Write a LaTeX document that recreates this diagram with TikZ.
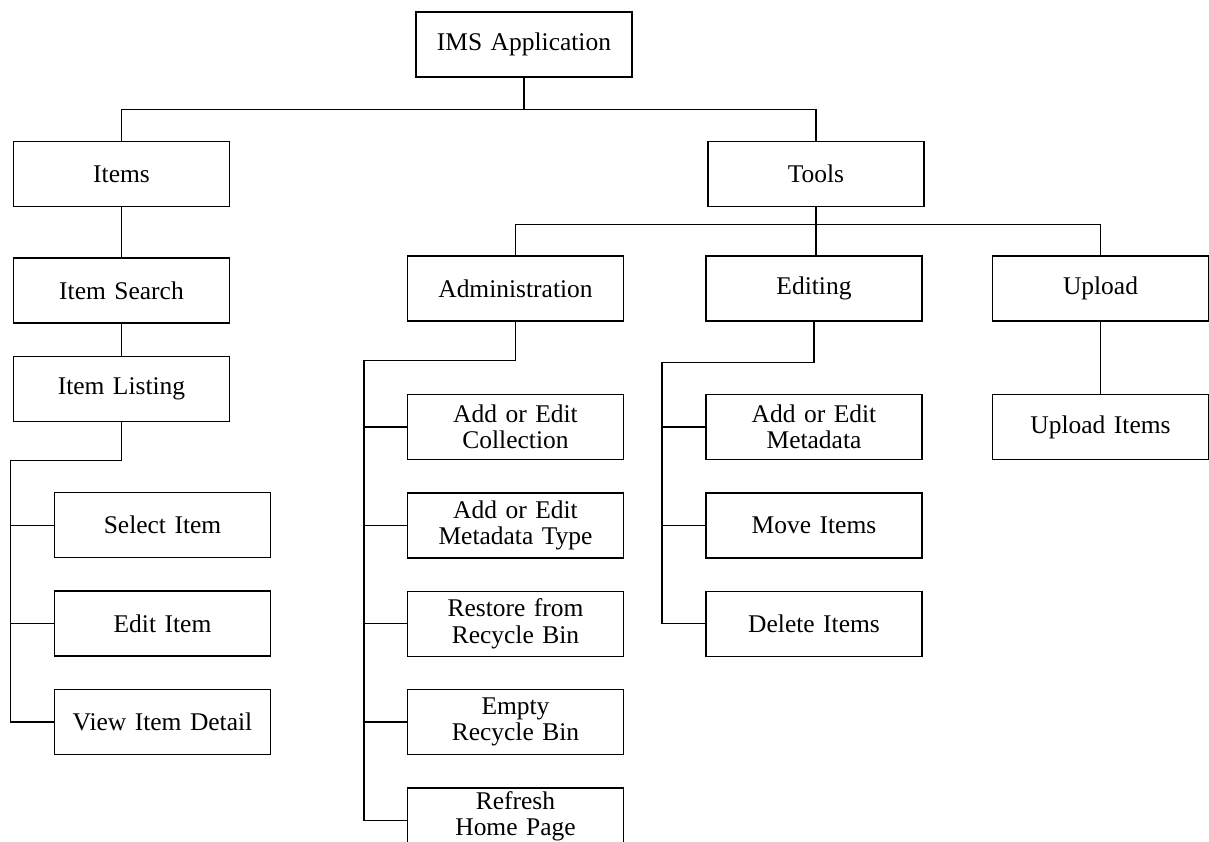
\documentclass[tikz,border=0pt]{standalone}
\usepackage{fontspec}
\setmainfont{Liberation Serif}
\usetikzlibrary{positioning,calc}
\tikzset{
  unit/.style={
    draw,
    line width=0.8pt,
    minimum width=4.32cm,
    minimum height=1.3cm,
    text width=4.1cm,
    inner sep=0pt,
    align=center,
    font=\fontsize{14.5}{15}\selectfont
  },
  link/.style={draw, line width=0.8pt}
}

\begin{document}
\begin{tikzpicture}[node distance=0.64cm]
  \useasboundingbox (0,0) rectangle (24.18,-16.82);

  \node[unit] (app) at (10.48,-0.89) {IMS Application};
  \node[unit] (items) at (2.43,-3.48) {Items};
  \node[unit] (tools) at (16.32,-3.48) {Tools};

  % items branch
  \node[unit, below=1.0cm of items] (search) {Item Search};
  \node[unit, below=of search] (listing) {Item Listing};
  \node[unit, below=1.4cm of listing, xshift=0.82cm] (select) {Select Item};
  \node[unit, below=of select] (edit) {Edit Item};
  \node[unit, below=of edit] (view) {View Item Detail};

  % tools branch
  \node[unit] (admin) at (10.31,-5.77) {Administration};
  \node[unit] (editing) at (16.28,-5.77) {Editing};
  \node[unit] (upload) at (22.01,-5.77) {Upload};

  \node[unit, below=1.44cm of admin] (collection) {Add or Edit\\Collection};
  \node[unit, below=of collection] (mdtype) {Add or Edit\\Metadata Type};
  \node[unit, below=of mdtype] (restore) {Restore from\\Recycle Bin};
  \node[unit, below=of restore] (empty) {Empty\\Recycle Bin};
  \node[unit, below=of empty, text depth=0.8cm] (refresh) {Refresh\\Home Page};

  \node[unit, below=1.44cm of editing] (metadata) {Add or Edit\\Metadata};
  \node[unit, below=of metadata] (move) {Move Items};
  \node[unit, below=of move] (delete) {Delete Items};

  \node[unit, below=1.44cm of upload] (upitems) {Upload Items};

  % connectors
  \coordinate (appbus) at ($(app.south)+(0,-0.64)$);
  \draw[link] (app.south) -- (appbus);
  \draw[link] (items.north) |- (appbus) -| (tools.north);
  \draw[link] (items) -- (search);
  \draw[link] (search) -- (listing);

  \coordinate (toolsbus) at ($(tools.south)+(0,-0.34)$);
  \draw[link] (tools.south) -- (toolsbus);
  \draw[link] (admin.north) |- (toolsbus) -| (upload.north);
  \draw[link] (toolsbus) -- (toolsbus |- editing.north);
  \draw[link] (upload) -- (upitems);

  \coordinate (listbus) at ($(listing.south)+(0,-0.77)$);
  \draw[link] (listing.south) -- (listbus) -| ($(view.west)+(-0.86,0)$) -- (view.west);
  \foreach \n in {select,edit}
    \draw[link] (\n.west) -- ++(-0.86,0);

  \coordinate (adminbus) at ($(admin.south)+(0,-0.77)$);
  \draw[link] (admin.south) -- (adminbus) -| ($(refresh.west)+(-0.86,0)$) -- (refresh.west);
  \foreach \n in {collection,mdtype,restore,empty}
    \draw[link] (\n.west) -- ++(-0.86,0);

  \coordinate (editbus) at ($(editing.south)+(0,-0.82)$);
  \draw[link] (editing.south) -- (editbus) -| ($(delete.west)+(-0.87,0)$) -- (delete.west);
  \foreach \n in {metadata,move}
    \draw[link] (\n.west) -- ++(-0.87,0);
\end{tikzpicture}
\end{document}
